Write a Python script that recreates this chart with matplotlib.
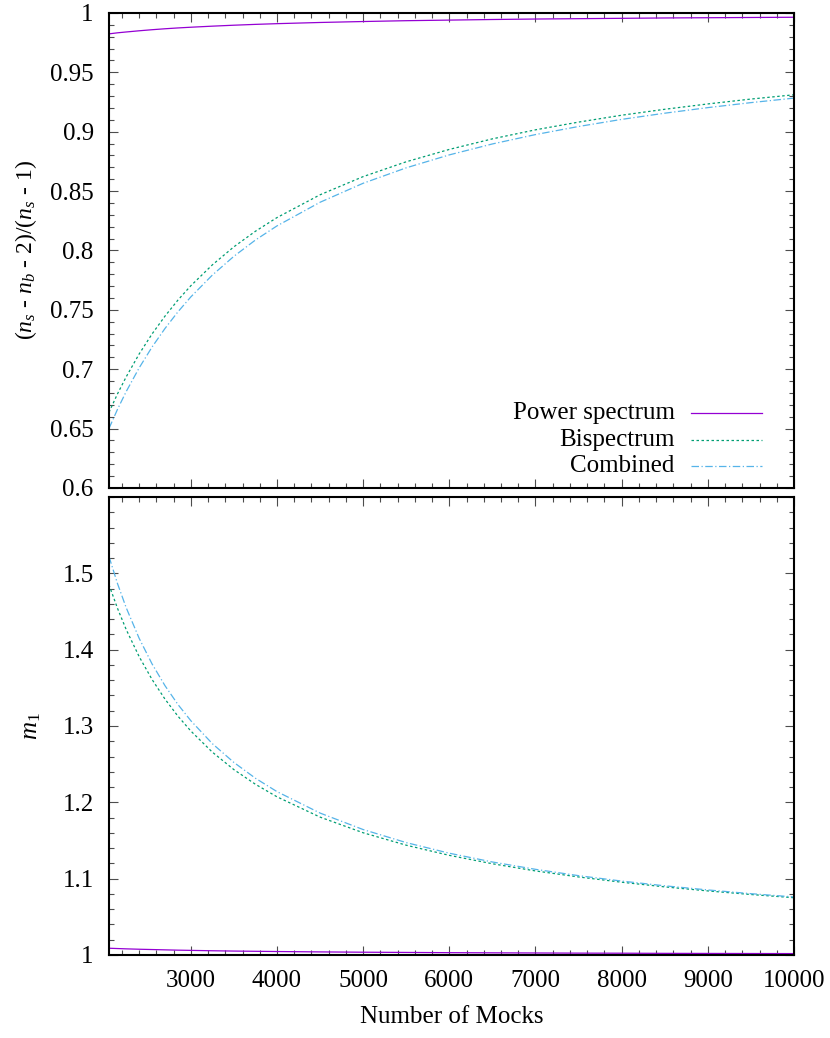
import numpy as np
import matplotlib
matplotlib.use("Agg")
import matplotlib.pyplot as plt
from matplotlib.ticker import MultipleLocator, FixedLocator, FuncFormatter

plt.rcParams['font.family'] = ['Liberation Serif', 'DejaVu Serif']
plt.rcParams['mathtext.fontset'] = 'custom'
plt.rcParams['mathtext.rm'] = 'Liberation Serif'
plt.rcParams['mathtext.it'] = 'Liberation Serif:italic'
plt.rcParams['font.size'] = 18

# number of mocks
mocks = [2050, 2150, 2250, 2400, 2550, 2700, 2850, 3000, 3250, 3500, 3750, 4000,
         4500, 5000, 5500, 6000, 6500, 7000, 7500, 8000, 8500, 9000, 9500, 10000]

# (n_s - n_b - 2)/(n_s - 1)
ratio_ps = [0.9824, 0.9833, 0.9840, 0.9850, 0.9859, 0.9867, 0.9874, 0.9880,
            0.9889, 0.9897, 0.9904, 0.9910, 0.9920, 0.9928, 0.9935, 0.9940,
            0.9945, 0.9949, 0.9952, 0.9955, 0.9958, 0.9960, 0.9962, 0.9964]
ratio_bs = [0.6637, 0.6794, 0.6936, 0.7128, 0.7297, 0.7447, 0.7582, 0.7703,
            0.7879, 0.8031, 0.8162, 0.8277, 0.8469, 0.8622, 0.8747, 0.8851,
            0.8940, 0.9016, 0.9081, 0.9139, 0.9189, 0.9234, 0.9275, 0.9311]
ratio_comb = [0.6501, 0.6664, 0.6812, 0.7011, 0.7187, 0.7343, 0.7483, 0.7609,
              0.7793, 0.7951, 0.8088, 0.8207, 0.8406, 0.8566, 0.8696, 0.8805,
              0.8897, 0.8976, 0.9044, 0.9104, 0.9156, 0.9203, 0.9245, 0.9283]

# m1
m1_ps = [1.0088, 1.0084, 1.0080, 1.0075, 1.0071, 1.0067, 1.0063, 1.0060,
         1.0055, 1.0051, 1.0048, 1.0045, 1.0040, 1.0036, 1.0033, 1.0030,
         1.0028, 1.0026, 1.0024, 1.0023, 1.0021, 1.0020, 1.0019, 1.0018]
m1_bs = [1.4850, 1.4538, 1.4263, 1.3909, 1.3609, 1.3352, 1.3129, 1.2934,
         1.2657, 1.2428, 1.2236, 1.2072, 1.1806, 1.1601, 1.1438, 1.1305,
         1.1195, 1.1101, 1.1022, 1.0953, 1.0892, 1.0839, 1.0792, 1.0750]
m1_comb = [1.5220, 1.4862, 1.4549, 1.4149, 1.3813, 1.3528, 1.3282, 1.3069,
           1.2768, 1.2522, 1.2315, 1.2140, 1.1859, 1.1643, 1.1472, 1.1333,
           1.1218, 1.1122, 1.1039, 1.0968, 1.0906, 1.0852, 1.0803, 1.0760]

labels = ['Power spectrum', 'Bispectrum', 'Combined']
colors = ['#9400D3', '#009E73', '#56B4E9']
styles = ['-', (0, (2, 2)), (0, (6, 2, 1, 2))]

fig = plt.figure(figsize=(8.3, 10.38), dpi=100)
ax1 = fig.add_axes([0.1313, 0.5299, 0.8253, 0.4576])
ax2 = fig.add_axes([0.1313, 0.0800, 0.8253, 0.4412])

for ys, c, ls in zip([ratio_ps, ratio_bs, ratio_comb], colors, styles):
    ax1.plot(mocks, ys, color=c, linestyle=ls, linewidth=0.9)
for ys, c, ls in zip([m1_ps, m1_bs, m1_comb], colors, styles):
    ax2.plot(mocks, ys, color=c, linestyle=ls, linewidth=0.9)

fmt = FuncFormatter(lambda v, p: '%g' % round(v, 4))

for ax in (ax1, ax2):
    ax.set_xlim(2050, 10000)
    ax.xaxis.set_major_locator(FixedLocator(np.arange(3000, 10001, 1000)))
    ax.xaxis.set_minor_locator(FixedLocator(np.arange(2200, 10000, 200)))
    ax.tick_params(which='both', direction='in', top=True, right=True,
                   color='0.3', width=0.8)
    ax.tick_params(which='major', length=6.5, labelsize=18, pad=11)
    ax.tick_params(which='minor', length=3.5)
    for s in ax.spines.values():
        s.set_linewidth(1.5)
    ax.yaxis.set_major_formatter(fmt)

ax1.set_ylim(0.6, 1.0)
ax1.yaxis.set_major_locator(MultipleLocator(0.05))
ax1.yaxis.set_minor_locator(MultipleLocator(0.01))
ax1.tick_params(labelbottom=False)
ax1.set_ylabel('($n_s$ - $n_b$ - 2)/($n_s$ - 1)', fontsize=17, labelpad=8)

ax2.set_ylim(1.0, 1.6)
ax2.yaxis.set_major_locator(FixedLocator([1.0, 1.1, 1.2, 1.3, 1.4, 1.5]))
ax2.yaxis.set_minor_locator(FixedLocator(np.arange(1.02, 1.6, 0.02)))
ax2.set_ylabel('$m_1$', fontsize=18, labelpad=14)
ax2.set_xlabel('Number of Mocks', fontsize=18, labelpad=10)
ax2.xaxis.set_major_formatter(FuncFormatter(lambda v, p: '%d' % v))

# gnuplot-style key: text right-aligned, sample to the right
for i, (lab, c, ls) in enumerate(zip(labels, colors, styles)):
    y = 0.158 - i * 0.056
    ax1.text(0.826, y, lab, transform=ax1.transAxes, ha='right', va='center',
             fontsize=18)
    ax1.plot([0.85, 0.953], [y, y], transform=ax1.transAxes, color=c,
             linestyle=ls, linewidth=0.9)

fig.savefig('out.png', dpi=100)
